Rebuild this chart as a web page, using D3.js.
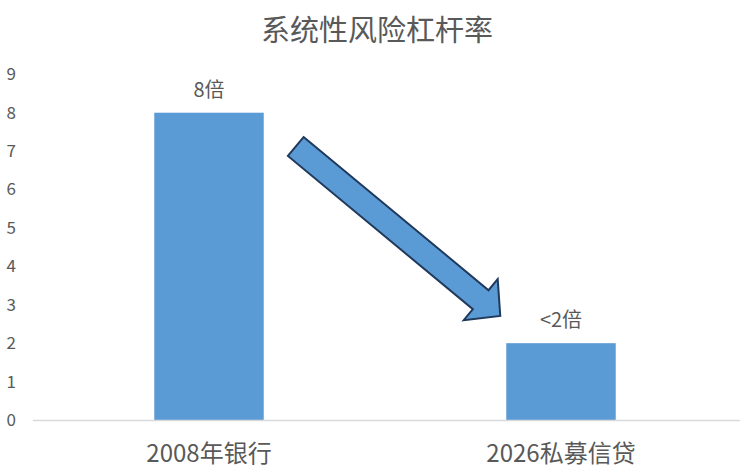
<!DOCTYPE html>
<html>
<head>
<meta charset="utf-8">
<script src="https://cdn.jsdelivr.net/npm/d3@7"></script>
<style>
  body { margin: 0; background: #fff; }
  svg text { font-family: "Noto Sans CJK SC", "Noto Sans", sans-serif; fill: #595959; }
</style>
</head>
<body>
<div id="chart-container"></div>
<script>
const title = '系统性风险杠杆率'
const categories = ['2008年银行', '2026私募信贷']
const values = [8, 2]
const valueLabels = ['8倍', '<2倍']
const yTicks = [0, 1, 2, 3, 4, 5, 6, 7, 8, 9]
// arrow annotation, in data units (from the first bar down to the second)
const arrowFromValue = 7.12
const arrowToValue = 2.71

const width = 748
const height = 472
const margin = { top: 74, right: 11, bottom: 52, left: 33 }
const blue = '#5b9bd5'

const svg = d3.select('#chart-container')
    .append('svg')
    .attr('width', width)
    .attr('height', height)

const x = d3.scaleBand()
    .domain(categories)
    .range([margin.left, width - margin.right])
    .paddingInner(0.689)
    .paddingOuter(0.689 / 2)

const y = d3.scaleLinear()
    .domain([0, 9])
    .range([height - margin.bottom, margin.top + 0.3])

svg.append('text')
    .attr('x', 377)
    .attr('y', 41)
    .attr('text-anchor', 'middle')
    .style('font-size', '29px')
    .text(title)

// y tick labels, no axis line
svg.append('g')
    .selectAll('text')
    .data(yTicks)
    .join('text')
    .attr('x', 16)
    .attr('y', d => y(d))
    .attr('dy', '0.35em')
    .attr('text-anchor', 'end')
    .style('font-size', '17px')
    .text(d => d)

svg.append('g')
    .selectAll('rect')
    .data(values)
    .join('rect')
    .attr('x', (d, i) => x(categories[i]))
    .attr('y', d => y(d))
    .attr('width', x.bandwidth())
    .attr('height', d => y(0) - y(d))
    .attr('fill', blue)

svg.append('line')
    .attr('x1', margin.left)
    .attr('x2', width - 8)
    .attr('y1', y(0) + 0.5)
    .attr('y2', y(0) + 0.5)
    .attr('stroke', '#d9d9d9')
    .attr('stroke-width', 1.5)

svg.append('g')
    .selectAll('text')
    .data(valueLabels)
    .join('text')
    .attr('x', (d, i) => x(categories[i]) + x.bandwidth() / 2)
    .attr('y', (d, i) => y(values[i]) - 16)
    .attr('text-anchor', 'middle')
    .style('font-size', '20px')
    .text(d => d)

svg.append('g')
    .selectAll('text')
    .data(categories)
    .join('text')
    .attr('x', d => x(d) + x.bandwidth() / 2)
    .attr('y', y(0) + 42)
    .attr('text-anchor', 'middle')
    .style('font-size', '24px')
    .text(d => d)

// block arrow
const tail = [x(categories[0]) + x.bandwidth() + 32, y(arrowFromValue)]
const tip = [x(categories[1]) - 6, y(arrowToValue)]
const dx = tip[0] - tail[0]
const dy = tip[1] - tail[1]
const len = Math.hypot(dx, dy)
const shaftW = 24.6
const headW = 53.3
const headL = 25.4

const arrowPts = [
    [0, -shaftW / 2],
    [len - headL, -shaftW / 2],
    [len - headL, -headW / 2],
    [len, 0],
    [len - headL, headW / 2],
    [len - headL, shaftW / 2],
    [0, shaftW / 2]
]

svg.append('polygon')
    .attr('points', arrowPts.map(p => p.join(',')).join(' '))
    .attr('transform', `translate(${tail[0]},${tail[1]}) rotate(${Math.atan2(dy, dx) * 180 / Math.PI})`)
    .attr('fill', blue)
    .attr('stroke', '#203a5c')
    .attr('stroke-width', 2)
    .attr('stroke-linejoin', 'miter')
</script>
</body>
</html>
